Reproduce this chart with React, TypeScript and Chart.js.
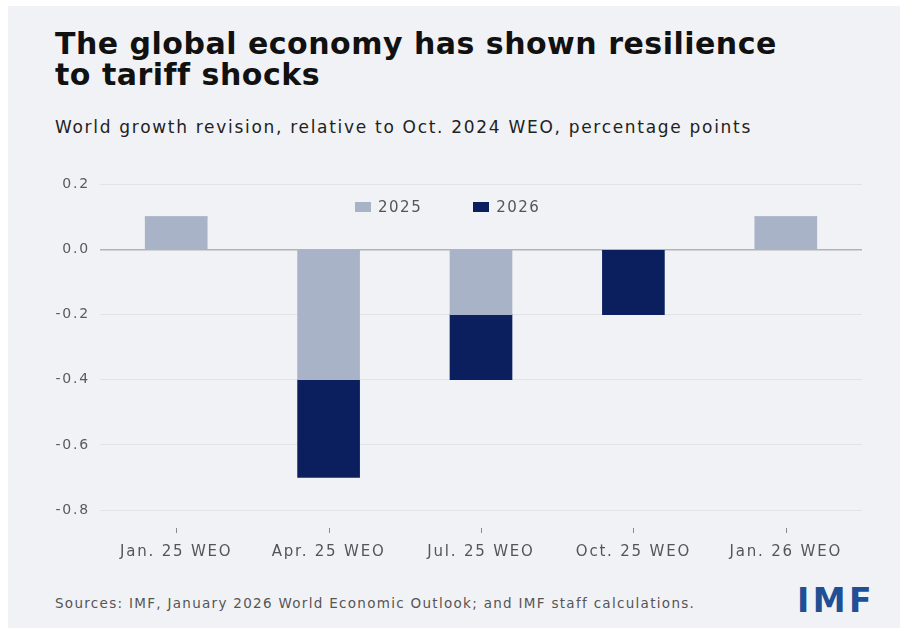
import React, { useEffect, useRef } from "react";
import { Chart, registerables } from "chart.js";

Chart.register(...registerables);

const categories = ["Jan. 25 WEO", "Apr. 25 WEO", "Jul. 25 WEO", "Oct. 25 WEO", "Jan. 26 WEO"];
const series2025 = [0.1, -0.4, -0.2, 0, 0.1];
const series2026 = [0, -0.3, -0.2, -0.2, 0];
const seriesNames = ["2025", "2026"];
const yTicks = [-0.8, -0.6, -0.4, -0.2, 0.0, 0.2];

const COLOR_2025 = "#a9b3c7";
const COLOR_2026 = "#0b1f5f";
const FONT = "'DejaVu Sans', 'Open Sans', sans-serif";

const spacing = {
  id: "letterSpacing",
  beforeLayout(chart: any) {
    chart.ctx.letterSpacing = "1.8px";
  },
  beforeDraw(chart: any) {
    chart.ctx.letterSpacing = "1.8px";
  },
};

const xTickMarks = {
  id: "xTickMarks",
  afterDraw(chart: any) {
    const x = chart.scales.x;
    const ctx = chart.ctx;
    const bottom = chart.chartArea.bottom;
    ctx.save();
    ctx.strokeStyle = "#8a8a8a";
    ctx.lineWidth = 1;
    for (let i = 0; i < categories.length; i++) {
      const px = Math.round(x.getPixelForTick(i)) + 0.5;
      ctx.beginPath();
      ctx.moveTo(px, bottom + 18);
      ctx.lineTo(px, bottom + 23);
      ctx.stroke();
    }
    ctx.restore();
  },
};

export default function App() {
  const ref = useRef<HTMLCanvasElement | null>(null);

  useEffect(() => {
    if (!ref.current) return;
    const chart = new Chart(ref.current, {
      type: "bar",
      data: {
        labels: categories,
        datasets: [
          { label: seriesNames[0], data: series2025, backgroundColor: COLOR_2025, barThickness: 62 },
          { label: seriesNames[1], data: series2026, backgroundColor: COLOR_2026, barThickness: 62 },
        ],
      },
      options: {
        animation: false,
        responsive: false,
        maintainAspectRatio: false,
        layout: { padding: { left: 0, right: 30, top: 18, bottom: 0 } },
        plugins: {
          legend: { display: false },
          tooltip: { enabled: false },
        },
        scales: {
          x: {
            stacked: true,
            grid: { display: false, drawTicks: false },
            border: { display: false },
            ticks: {
              padding: 33,
              color: "#555",
              font: { family: FONT, size: 15 },
              maxRotation: 0,
            },
            afterFit(scale: any) {
              scale.height = 56;
            },
          },
          y: {
            stacked: true,
            min: -0.8,
            max: 0.2,
            afterBuildTicks(scale: any) {
              scale.ticks = yTicks.map((v) => ({ value: v }));
            },
            grid: {
              drawTicks: false,
              color: (c: any) => (c.tick && Math.abs(c.tick.value) < 1e-9 ? "#b3b3b3" : "#e2e3e7"),
              lineWidth: (c: any) => (c.tick && Math.abs(c.tick.value) < 1e-9 ? 1.5 : 1),
            },
            border: { display: false },
            ticks: {
              padding: 10,
              color: "#5a5a5a",
              font: { family: FONT, size: 14 },
              callback: (v: any) => Number(v).toFixed(1),
            },
            afterFit(scale: any) {
              scale.width = 92;
            },
          },
        },
      },
      plugins: [spacing, xTickMarks],
    });
    return () => chart.destroy();
  }, []);

  return (
    <div style={{ position: "absolute", left: 0, top: 0, width: 900, height: 628, background: "#ffffff", overflow: "hidden" }}>
      <div style={{ position: "absolute", left: 8, top: 6, width: 892, height: 622, background: "#f1f2f5", fontFamily: FONT }}>
        <div style={{ position: "absolute", left: 47, top: 22, fontSize: 30, fontWeight: 700, lineHeight: "31px", color: "#111", letterSpacing: 0.5, whiteSpace: "nowrap" }}>
          The global economy has shown resilience
          <br />
          to tariff shocks
        </div>
        <div style={{ position: "absolute", left: 47, top: 111, fontSize: 17, lineHeight: "20px", color: "#222", letterSpacing: 1.7, whiteSpace: "nowrap" }}>
          World growth revision, relative to Oct. 2024 WEO, percentage points
        </div>
        <div style={{ position: "absolute", left: 0, top: 160 }}>
          <canvas ref={ref} width={884} height={400} style={{ display: "block", width: 884, height: 400 }} />
        </div>
        <div style={{ position: "absolute", left: 347, top: 192, display: "flex", alignItems: "center", fontSize: 15, lineHeight: "18px", color: "#555", letterSpacing: 1.5 }}>
          <span style={{ display: "inline-block", width: 16, height: 10, background: COLOR_2025, marginRight: 7 }} />
          <span>{seriesNames[0]}</span>
          <span style={{ display: "inline-block", width: 16, height: 10, background: COLOR_2026, marginLeft: 51, marginRight: 7 }} />
          <span>{seriesNames[1]}</span>
        </div>
        <div style={{ position: "absolute", left: 47, top: 589, fontSize: 13.5, lineHeight: "16px", color: "#555", letterSpacing: 1.3, whiteSpace: "nowrap" }}>
          Sources: IMF, January 2026 World Economic Outlook; and IMF staff calculations.
        </div>
        <div style={{ position: "absolute", left: 789, top: 577, fontSize: 33, lineHeight: "36px", fontWeight: 700, color: "#1f4f94", letterSpacing: 3.5 }}>
          IMF
        </div>
      </div>
    </div>
  );
}
